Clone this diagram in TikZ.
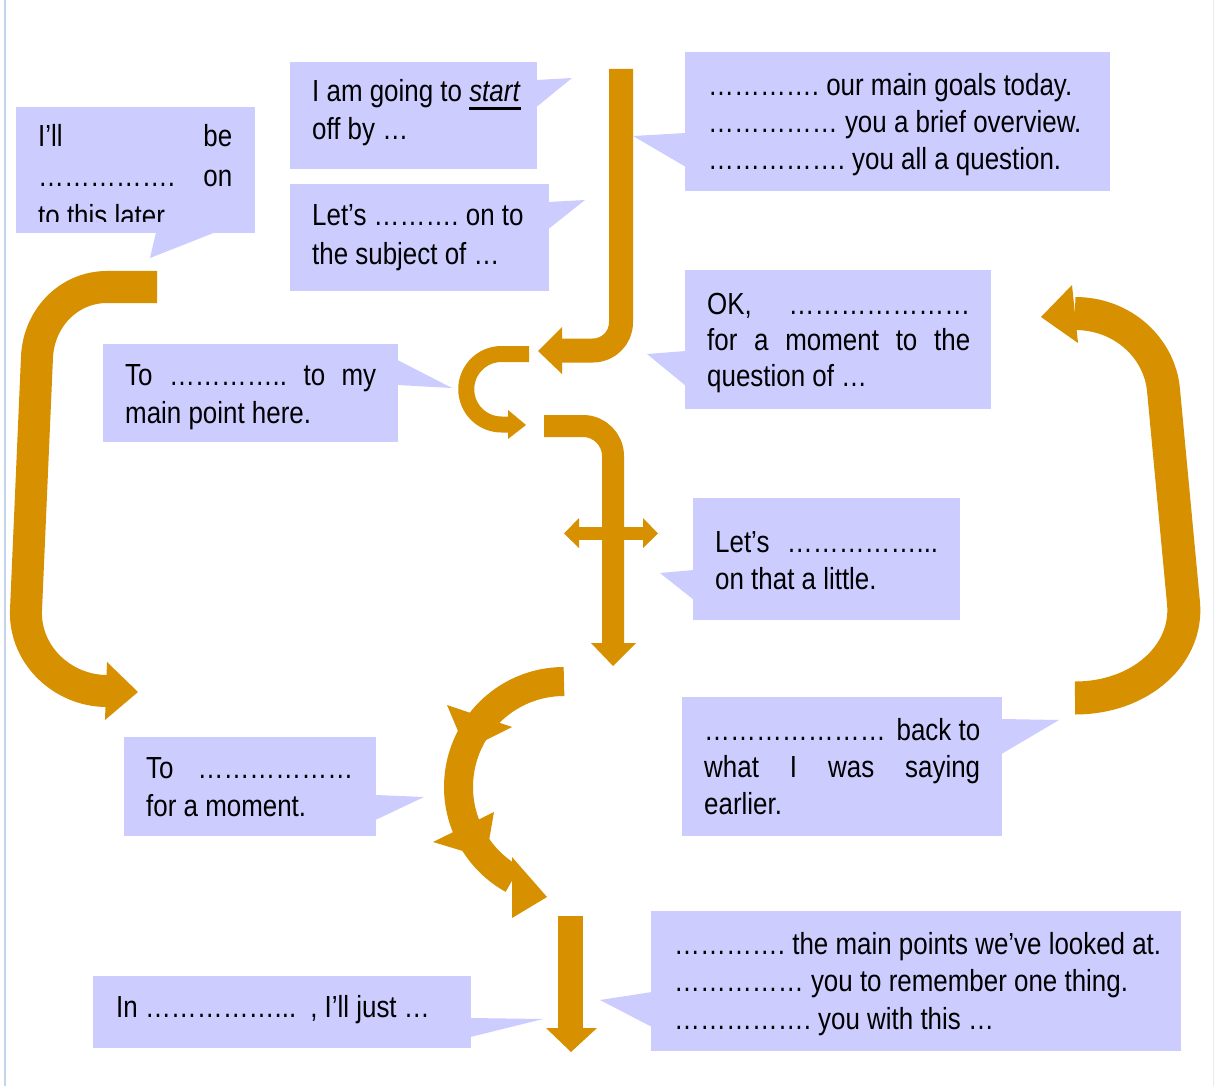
\documentclass[tikz,border=0pt]{standalone}
\usepackage{fontspec}
\setmainfont{Liberation Sans}[FakeStretch=0.85]
\definecolor{boxfill}{RGB}{204,204,255}
\definecolor{arrowc}{RGB}{214,144,0}
\definecolor{edgeleft}{RGB}{196,212,236}
\definecolor{edgeright}{RGB}{232,234,242}
\newcommand\elp{…}
\newcommand\jline[2]{\leavevmode\hbox to #1{#2}}
\newcommand\oline[1]{\mbox{#1}}
\newcommand\thickul[1]{\leavevmode\setbox0\hbox{#1}\rlap{\rule[-8.5pt]{\wd0}{3pt}}\box0}
\begin{document}
\frenchspacing
\begin{tikzpicture}[x=1pt,y=-1pt,
  box/.style={fill=boxfill, inner sep=0pt, anchor=north west},
  txt/.style={inner sep=0pt, anchor=base west, align=flush left, font=\fontsize{30.5}{37.5}\selectfont},
  calltail/.style={fill=boxfill},
  arr/.style={draw=arrowc, line cap=butt, line join=round},
  headfill/.style={fill=arrowc}]
\useasboundingbox (0,0) rectangle (1216,1086);
\fill[white] (0,0) rectangle (1216,1086);
\draw[edgeleft, line width=1.5pt] (5,0) -- (5,1086);
\draw[edgeright, line width=1pt] (1213,0) -- (1213,1086);

% ---------------- arrows ----------------
% top centre: down then left
\draw[arr, line width=24pt, rounded corners=28pt] (621,69) -- (621,350.5) -- (562,350.5);
\fill[headfill] (562,327) -- (538,351) -- (562,374) -- cycle;
% small C arrow
\draw[arr, line width=16pt] (529,354) -- (501.5,354) arc[start angle=-90, end angle=-270, radius=35.25] -- (508,424.5);
\fill[headfill] (508,410) -- (526,425) -- (508,439) -- cycle;
% right-then-down arrow
\draw[arr, line width=22pt, rounded corners=30pt] (544,426) -- (613,426) -- (613,643);
\fill[headfill] (591,643) -- (613,666) -- (636,643) -- cycle;
% double-headed horizontal
\draw[arr, line width=13pt] (579,533.5) -- (643,533.5);
\fill[headfill] (579,518) -- (564,533.5) -- (579,548) -- cycle;
\fill[headfill] (643,518) -- (658,533.5) -- (643,548) -- cycle;
% big left bracket
\draw[arr, line width=32pt] (157,287) -- (107,287) .. controls (68.4,287) and (38.7,318.5) .. (37,357) -- (26,610) .. controls (24.1,654.6) and (62.3,691) .. (107,691);
\fill[headfill] (107,662) -- (138,692) -- (105,720) -- cycle;
% big right bracket
\draw[arr, line width=33pt] (1075,313.5) .. controls (1123,313.5) and (1159.6,348.2) .. (1163.5,390) -- (1183.5,603) .. controls (1188.4,654.8) and (1140,698) .. (1075,698);
\fill[headfill] (1072,285) -- (1041,317) -- (1078,343) -- cycle;
% circular arrow with barbs
\draw[arr, line width=29pt] (564,681.5) arc[start angle=-90, end angle=-241, radius=105.5];
\fill[headfill] (447,705) -- (512,727) -- (466,750) -- cycle;
\fill[headfill] (433,842) -- (494,812) -- (486,858) -- cycle;
\fill[headfill] (512,857) -- (547,897) -- (512,918) -- cycle;
% bottom straight down
\draw[arr, line width=25pt] (570.5,916) -- (570.5,1028);
\fill[headfill] (546,1028) -- (571,1052) -- (597,1028) -- cycle;

% ---------------- callout boxes ----------------
% A
\node[box, minimum width=239pt, minimum height=126pt] (ill) at (16,107) {};
\fill[calltail] ([shift={(140,-1)}]ill.south west) -- (150,258) -- ([shift={(199,-1)}]ill.south west) -- cycle;
\begin{scope}
\clip (ill.north west) rectangle ([shift={(0,115)}]ill.north east);
\node[txt, text width=194pt, font=\fontsize{30.5}{40}\selectfont] (illtext) at ([shift={(22,40)}]ill.north west)
  {\jline{194pt}{I’ll\hfill be}\\\jline{194pt}{\elp\elp\elp\elp\elp.\hfill on}\\\oline{to this later}};
\end{scope}
% B
\node[box, minimum width=247pt, minimum height=107pt] (start) at (290,62) {};
\fill[calltail] ([shift={(-1,18)}]start.north east) -- (572,78) -- ([shift={(-1,45)}]start.north east) -- cycle;
\node[txt, text width=225pt] (starttext) at ([shift={(22,40)}]start.north west)
  {\oline{I am going to \thickul{\textit{start}}}\\\oline{off by \elp}};
% C
\node[box, minimum width=259pt, minimum height=107pt] (moveon) at (290,184) {};
\fill[calltail] ([shift={(-1,18)}]moveon.north east) -- (585,200) -- ([shift={(-1,45)}]moveon.north east) -- cycle;
\node[txt, text width=237pt, font=\fontsize{30.5}{39}\selectfont] (moveontext) at ([shift={(22,42)}]moveon.north west)
  {\oline{Let’s \elp\elp\elp. on to}\\\oline{the subject of \elp}};
% D
\node[box, minimum width=425pt, minimum height=139pt] (goals) at (685,52) {};
\fill[calltail] ([shift={(1,81)}]goals.north west) -- (633,136) -- ([shift={(1,115)}]goals.north west) -- cycle;
\node[txt, text width=379pt, font=\fontsize{30.5}{37}\selectfont] (goalstext) at ([shift={(23,44)}]goals.north west)
  {\oline{\elp\elp\elp\elp. our main goals today.}\\\oline{\elp\elp\elp\elp\elp{} you a brief overview.}\\\oline{\elp\elp\elp\elp\elp. you all a question.}};
% E
\node[box, minimum width=306pt, minimum height=139pt] (digress) at (685,270) {};
\fill[calltail] ([shift={(1,81)}]digress.north west) -- (647,354) -- ([shift={(1,116)}]digress.north west) -- cycle;
\node[txt, text width=263pt, font=\fontsize{30.5}{36.5}\selectfont] (digresstext) at ([shift={(22,44)}]digress.north west)
  {\jline{263pt}{OK,\hfill\elp\elp\elp\elp\elp\elp\elp}\\\jline{263pt}{for\hfill a\hfill moment\hfill to\hfill the}\\\oline{question of \elp}};
% F
\node[box, minimum width=267pt, minimum height=122pt] (expand) at (693,498) {};
\fill[calltail] ([shift={(1,72)}]expand.north west) -- (660,573) -- ([shift={(1,102)}]expand.north west) -- cycle;
\node[txt, text width=223pt] (expandtext) at ([shift={(22,54)}]expand.north west)
  {\jline{223pt}{Let’s\hfill\elp\elp\elp\elp\elp...}\\\oline{on that a little.}};
% G
\node[box, minimum width=295pt, minimum height=98pt] (turn) at (103,344) {};
\fill[calltail] ([shift={(-1,16)}]turn.north east) -- (452,388) -- ([shift={(-1,41)}]turn.north east) -- cycle;
\node[txt, text width=251pt, font=\fontsize{30.5}{38}\selectfont] (turntext) at ([shift={(22,41)}]turn.north west)
  {\jline{251pt}{To\hfill\elp\elp\elp\elp..\hfill to\hfill my}\\\oline{main point here.}};
% H
\node[box, minimum width=252pt, minimum height=99pt] (aside) at (124,737) {};
\fill[calltail] ([shift={(-1,58)}]aside.north east) -- (424,797) -- ([shift={(-1,83)}]aside.north east) -- cycle;
\node[txt, text width=207pt, font=\fontsize{30.5}{38.5}\selectfont] (asidetext) at ([shift={(22,41)}]aside.north west)
  {\jline{207pt}{To\hfill\elp\elp\elp\elp\elp\elp}\\\oline{for a moment.}};
% I
\node[box, minimum width=378pt, minimum height=72pt] (concl) at (93,976) {};
\fill[calltail] ([shift={(-1,42)}]concl.north east) -- (543,1019) -- ([shift={(-1,61)}]concl.north east) -- cycle;
\node[txt, text width=340pt] (concltext) at ([shift={(23,41)}]concl.north west)
  {\oline{In \elp\elp\elp\elp\elp...\hspace{14pt}, I’ll just \elp}};
% J
\node[box, minimum width=320pt, minimum height=139pt] (back) at (682,697) {};
\fill[calltail] ([shift={(-1,22)}]back.north east) -- (1059,720) -- ([shift={(-1,57)}]back.north east) -- cycle;
\node[txt, text width=276pt, font=\fontsize{30.5}{37}\selectfont] (backtext) at ([shift={(22,43)}]back.north west)
  {\jline{276pt}{\elp\elp\elp\elp\elp\elp\elp\hfill back to}\\\jline{276pt}{what\hfill I\hfill was\hfill saying}\\\oline{earlier.}};
% K
\node[box, minimum width=530pt, minimum height=140pt] (summ) at (651,911) {};
\fill[calltail] ([shift={(1,81)}]summ.north west) -- (600,1000) -- ([shift={(1,116)}]summ.north west) -- cycle;
\node[txt, text width=484pt] (summtext) at ([shift={(23,43)}]summ.north west)
  {\oline{\elp\elp\elp\elp. the main points we’ve looked at.}\\\oline{\elp\elp\elp\elp\elp{} you to remember one thing.}\\\oline{\elp\elp\elp\elp\elp. you with this \elp}};
\end{tikzpicture}
\end{document}
